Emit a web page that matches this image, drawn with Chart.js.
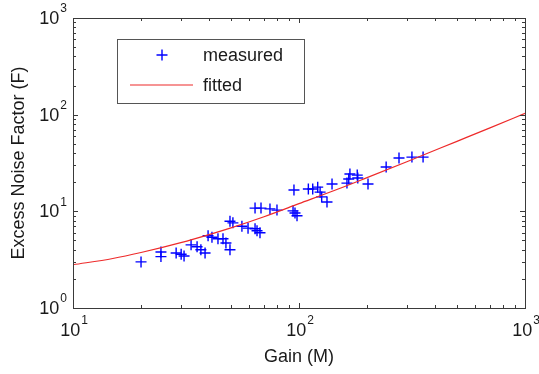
<!DOCTYPE html>
<html>
<head>
<meta charset="utf-8">
<script src="https://cdn.jsdelivr.net/npm/chart.js@4/dist/chart.umd.min.js"></script>
<style>
  html, body { margin: 0; padding: 0; background: #ffffff; }
  #wrap { width: 539px; height: 374px; }
</style>
</head>
<body>
<div id="wrap"><canvas id="c" width="539" height="374"></canvas></div>
<script>
// Measured APD gain vs. excess noise factor
const gainM = [20.0, 24.5, 24.5, 28.6, 30.1, 31.0, 33.3, 35.4, 36.8, 38.4,
               39.6, 41.2, 43.8, 46.1, 47.5, 49.5, 49.5, 51.0, 55.9, 59.5,
               63.9, 65.2, 67.2, 63.9, 67.9, 74.4, 79.9, 94.1, 96.0, 98.0,
               95.0, 110, 115, 121, 124, 126, 133, 140, 163, 168,
               181, 202, 243, 277, 316, 354, 166, 182];
const noiseF = [3.0, 3.8, 3.4, 3.7, 3.6, 3.45, 4.5, 4.3, 4.0, 3.7,
                5.6, 5.4, 5.2, 5.2, 4.7, 4.0, 7.9, 7.6, 7.0, 6.7,
                6.6, 6.3, 6.0, 10.8, 10.8, 10.6, 10.3, 10.1, 9.6, 9.0,
                16.6, 17.0, 17.0, 17.8, 15.8, 14.1, 12.5, 19.2, 19.6, 24.3,
                23.7, 19.2, 28.7, 35.6, 36.4, 36.4, 21.6, 22.1];

// Fitted curve, sampled along the gain axis
const fitGain = [10, 15, 20, 30, 40, 50, 70, 100, 150, 200, 300, 500, 700, 1000];
const fitF    = [2.8, 3.25, 3.75, 4.75, 5.75, 6.75, 8.8, 12.0, 17.1, 22.3, 32.6, 53.0, 73.0, 103];

// Axis decades and labels
const xDecades = [10, 100, 1000];
const yDecades = [1, 10, 100, 1000];
const xTitle = 'Gain (M)';
const yTitle = 'Excess Noise Factor (F)';
const legendLabels = ['measured', 'fitted'];

const FONT = '"Liberation Sans", Arial, Helvetica, sans-serif';
const TEXT = '#1a1a1a';
const AXIS = '#3a3a3a';
const BLUE = '#0000ff';
const RED = '#ee2a2a';

function drawPow(ctx, exp, x, y, align) {
  ctx.font = '18px ' + FONT;
  const wBase = ctx.measureText('10').width;
  ctx.font = '12px ' + FONT;
  const wExp = ctx.measureText(String(exp)).width;
  const total = wBase + 1 + wExp;
  const left = align === 'right' ? x - total : x - total / 2;
  ctx.textAlign = 'left';
  ctx.textBaseline = 'middle';
  ctx.fillStyle = TEXT;
  ctx.font = '18px ' + FONT;
  ctx.fillText('10', left, y);
  ctx.font = '12px ' + FONT;
  ctx.fillText(String(exp), left + wBase + 1, y - 10);
}

const framePlugin = {
  id: 'frame',
  afterDatasetsDraw(chart) {
    const ctx = chart.ctx;
    const a = chart.chartArea;
    const xs = chart.scales.x, ys = chart.scales.y;
    ctx.save();

    // axes box
    ctx.strokeStyle = AXIS;
    ctx.lineWidth = 1;
    ctx.strokeRect(Math.round(a.left) + 0.5, Math.round(a.top) + 0.5,
                   Math.round(a.right - a.left), Math.round(a.bottom - a.top));

    // inward ticks on all four sides
    ctx.beginPath();
    for (let i = 0; i < xDecades.length; i++) {
      const d = xDecades[i];
      const ks = i < xDecades.length - 1 ? [1,2,3,4,5,6,7,8,9] : [1];
      ks.forEach(k => {
        const px = Math.round(xs.getPixelForValue(k * d)) + 0.5;
        const len = k === 1 ? 5 : 3;
        ctx.moveTo(px, a.bottom); ctx.lineTo(px, a.bottom - len);
        ctx.moveTo(px, a.top); ctx.lineTo(px, a.top + len);
      });
    }
    for (let i = 0; i < yDecades.length; i++) {
      const d = yDecades[i];
      const ks = i < yDecades.length - 1 ? [1,2,3,4,5,6,7,8,9] : [1];
      ks.forEach(k => {
        const py = Math.round(ys.getPixelForValue(k * d)) + 0.5;
        const len = k === 1 ? 5 : 3;
        ctx.moveTo(a.left, py); ctx.lineTo(a.left + len, py);
        ctx.moveTo(a.right, py); ctx.lineTo(a.right - len, py);
      });
    }
    ctx.stroke();

    // tick labels
    xDecades.forEach(v => {
      drawPow(ctx, Math.round(Math.log10(v)), xs.getPixelForValue(v) + 1, a.bottom + 23, 'center');
    });
    yDecades.forEach(v => {
      drawPow(ctx, Math.round(Math.log10(v)), a.left - 6, ys.getPixelForValue(v) + 1, 'right');
    });

    // axis titles
    ctx.fillStyle = TEXT;
    ctx.font = '18px ' + FONT;
    ctx.textAlign = 'center';
    ctx.textBaseline = 'middle';
    ctx.fillText(xTitle, (a.left + a.right) / 2, a.bottom + 49);
    ctx.save();
    ctx.translate(19, (a.top + a.bottom) / 2);
    ctx.rotate(-Math.PI / 2);
    ctx.fillText(yTitle, 0, 0);
    ctx.restore();

    // legend
    const lx = 117.5, ly = 39.5, lw = 187, lh = 64;
    ctx.fillStyle = '#ffffff';
    ctx.fillRect(lx, ly, lw, lh);
    ctx.strokeStyle = '#555555';
    ctx.lineWidth = 1;
    ctx.strokeRect(lx, ly, lw, lh);
    ctx.strokeStyle = BLUE;
    ctx.lineWidth = 1.4;
    ctx.beginPath();
    ctx.moveTo(156.5, 55); ctx.lineTo(167.5, 55);
    ctx.moveTo(162, 49.5); ctx.lineTo(162, 60.5);
    ctx.stroke();
    ctx.strokeStyle = RED;
    ctx.lineWidth = 1.2;
    ctx.beginPath();
    ctx.moveTo(130, 85); ctx.lineTo(193, 85);
    ctx.stroke();
    ctx.fillStyle = TEXT;
    ctx.font = '18px ' + FONT;
    ctx.textAlign = 'left';
    ctx.textBaseline = 'middle';
    ctx.fillText(legendLabels[0], 203, 56);
    ctx.fillText(legendLabels[1], 203, 86);

    ctx.restore();
  }
};

new Chart(document.getElementById('c'), {
  type: 'scatter',
  data: {
    datasets: [
      {
        label: legendLabels[0],
        data: gainM.map((m, i) => ({ x: m, y: noiseF[i] })),
        pointStyle: 'cross',
        pointRadius: 5.5,
        pointBorderWidth: 1.4,
        borderColor: BLUE,
        backgroundColor: BLUE,
        showLine: false,
        order: 2
      },
      {
        label: legendLabels[1],
        type: 'line',
        data: fitGain.map((m, i) => ({ x: m, y: fitF[i] })),
        borderColor: RED,
        borderWidth: 1.2,
        pointRadius: 0,
        fill: false,
        cubicInterpolationMode: 'monotone',
        order: 1
      }
    ]
  },
  options: {
    responsive: false,
    animation: false,
    devicePixelRatio: 1,
    layout: { padding: { left: 0, right: 14, top: 18, bottom: 0 } },
    plugins: { legend: { display: false }, tooltip: { enabled: false } },
    scales: {
      x: {
        type: 'logarithmic', min: 10, max: 1000,
        ticks: { display: false },
        grid: { display: false },
        border: { display: false },
        afterFit(scale) { scale.height = 66; }
      },
      y: {
        type: 'logarithmic', min: 1, max: 1000,
        ticks: { display: false },
        grid: { display: false },
        border: { display: false },
        afterFit(scale) { scale.width = 73; }
      }
    }
  },
  plugins: [framePlugin]
});
</script>
</body>
</html>
